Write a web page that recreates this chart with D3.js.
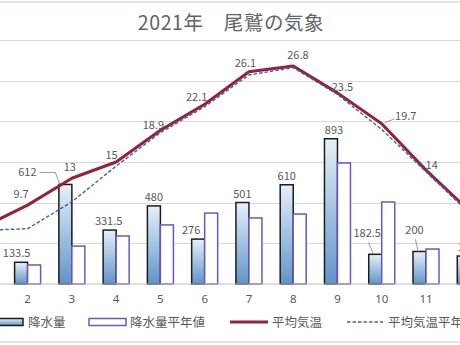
<!DOCTYPE html>
<html>
<head>
<meta charset="utf-8">
<script src="https://cdn.jsdelivr.net/npm/d3@7"></script>
<style>
  html, body { margin: 0; padding: 0; background: #fff; overflow: hidden; }
  svg { display: block; }
  text { font-family: "Noto Sans CJK JP", "Noto Sans", sans-serif; }
</style>
</head>
<body>
<svg id="chart" width="460" height="345"></svg>
<script>
// Monthly weather at Owase, 2021
const months = [1, 2, 3, 4, 5, 6, 7, 8, 9, 10, 11, 12];
const monthLabels = ["1", "2", "3", "4", "5", "6", "7", "8", "9", "10", "11", "12"];
const precip = [97, 133.5, 612, 331.5, 480, 276, 501, 610, 893, 182.5, 200, 172];        // 降水量 (mm)
const precipNormal = [103, 117, 233, 295, 363, 436, 406, 430, 744, 504, 215, 110];        // 降水量平年値 (mm)
const temp = [7.0, 9.7, 13, 15, 18.9, 22.1, 26.1, 26.8, 23.5, 19.7, 14, 8.9];             // 平均気温 (°C)
const tempNormal = [6.6, 6.8, 10.1, 14.5, 18.6, 21.8, 25.7, 26.6, 23.3, 19.0, 13.8, 8.6]; // 平均気温平年値 (°C)
const precipTicks = [0, 250, 500, 750, 1000, 1250, 1500];
const titleText = "2021年\u3000尾鷲の気象";
const legendLabels = ["降水量", "降水量平年値", "平均気温", "平均気温平年値"];

// Label placement (offsets from the mark, px)
const tempLabelOffset = [[-4, -10], [-6.5, -11], [-2, -11], [-4.5, -7], [-7, -5], [-8, -7],
                         [-3.5, -9], [4.7, -11], [5, -6], [24, -8], [5.7, -5], [4, -8]];
const precipLabelShift = [0, -4.5, 0, -1, 0, -7, 0, 0, 3, 0, 0, 3];
// Labels pulled away from their bar, connected with a leader line
const precipLeader = { 2: { dx: -38, dy: -12 }, 9: { dx: -8, dy: -21 }, 10: { dx: -5, dy: -21 } };

const W = 460, H = 345;
const svg = d3.select("#chart");
const grey = "#595959";

const x = d3.scaleBand().domain(months).range([-38.8, 492.4]).padding(0);
const cx = m => x(m) + x.bandwidth() / 2;
const barW = 13;
const yP = d3.scaleLinear().domain([0, 1500]).range([284, 40]);
const yT = d3.scaleLinear().domain([0, 30]).range([284, 40]);

// frame lines
svg.append("line").attr("x1", 0).attr("x2", W).attr("y1", 2).attr("y2", 2)
  .attr("stroke", "#d5dbdf").attr("stroke-width", 1.5);
svg.append("line").attr("x1", 0).attr("x2", W).attr("y1", 342).attr("y2", 342)
  .attr("stroke", "#d5dbdf").attr("stroke-width", 1.5);

// title
svg.append("text").attr("x", 231).attr("y", 30).attr("text-anchor", "middle")
  .attr("font-size", 19.5).attr("fill", "#5f6468").attr("letter-spacing", 0.6).text(titleText);

// gridlines
svg.append("g").selectAll("line").data(precipTicks.slice(1)).join("line")
  .attr("x1", 0).attr("x2", W)
  .attr("y1", d => Math.round(yP(d)) + 0.5).attr("y2", d => Math.round(yP(d)) + 0.5)
  .attr("stroke", "#d9d9d9").attr("stroke-width", 1);

// gradient for the precipitation bars
const defs = svg.append("defs");
const grad = defs.append("linearGradient").attr("id", "barGrad")
  .attr("x1", 0).attr("y1", 0).attr("x2", 0).attr("y2", 1);
grad.append("stop").attr("offset", "0%").attr("stop-color", "#e6f0f9");
grad.append("stop").attr("offset", "100%").attr("stop-color", "#5f95c9");

// precipitation bars
svg.append("g").selectAll("rect").data(months).join("rect")
  .attr("x", (m) => cx(m) - barW)
  .attr("y", (m, i) => yP(precip[i]))
  .attr("width", barW)
  .attr("height", (m, i) => yP(0) - yP(precip[i]))
  .attr("fill", "url(#barGrad)").attr("stroke", "#1c1c1c").attr("stroke-width", 1.5);

// normal precipitation bars
svg.append("g").selectAll("rect").data(months).join("rect")
  .attr("x", (m) => cx(m))
  .attr("y", (m, i) => yP(precipNormal[i]))
  .attr("width", barW)
  .attr("height", (m, i) => yP(0) - yP(precipNormal[i]))
  .attr("fill", "#fff").attr("stroke", "#6e55c6").attr("stroke-width", 1.5);

// baseline
svg.append("line").attr("x1", 0).attr("x2", W).attr("y1", yP(0)).attr("y2", yP(0))
  .attr("stroke", "#bfbfbf").attr("stroke-width", 1);

// month labels
const xAxis = d3.axisBottom(x).tickSize(0).tickPadding(11).tickFormat((m, i) => monthLabels[i]);
const gx = svg.append("g").attr("transform", `translate(0,${yP(0)})`).call(xAxis);
gx.select(".domain").remove();
gx.selectAll("text").attr("font-size", 11.5).attr("fill", grey)
  .style("font-family", "'Noto Sans', sans-serif");

// temperature lines
const line = d3.line().x((d, i) => cx(months[i])).y(d => yT(d));
svg.append("path").datum(temp).attr("d", line).attr("fill", "none")
  .attr("stroke", "#93223a").attr("stroke-width", 3).attr("stroke-linejoin", "round");
svg.append("path").datum(tempNormal).attr("d", line).attr("fill", "none")
  .attr("stroke", "#3d62b5").attr("stroke-width", 1.4).attr("stroke-dasharray", "3.5 2");

// precipitation labels
const pl = svg.append("g").attr("font-size", 11).attr("fill", grey)
  .style("font-family", "'Noto Sans', sans-serif");
months.forEach((m, i) => {
  const bx = cx(m) - barW / 2, by = yP(precip[i]);
  const lead = precipLeader[i];
  if (lead) {
    const tx = bx + lead.dx, ty = by + lead.dy;
    pl.append("text").attr("x", tx).attr("y", ty + 4).attr("text-anchor", "middle").text(precip[i]);
    const pts = i === 2
      ? [[tx + 12, ty], [tx + 28, ty], [cx(m) - barW + 1, by]]
      : [[tx + 1, ty + 9], [cx(m) - barW + 5, by]];
    svg.append("path").attr("d", d3.line()(pts)).attr("fill", "none")
      .attr("stroke", "#7f7f7f").attr("stroke-width", 0.8);
  } else {
    pl.append("text").attr("x", bx + precipLabelShift[i]).attr("y", by - 5)
      .attr("text-anchor", "middle").text(precip[i]);
  }
});

// temperature labels
const tl = svg.append("g").attr("font-size", 11).attr("fill", grey)
  .style("font-family", "'Noto Sans', sans-serif");
months.forEach((m, i) => {
  tl.append("text").attr("x", cx(m) + tempLabelOffset[i][0]).attr("y", yT(temp[i]) + tempLabelOffset[i][1] + 4)
    .attr("text-anchor", "middle").text(temp[i]);
});
// leader from the October label back to its point
svg.append("path")
  .attr("d", d3.line()([[cx(10) + 13, yT(temp[9]) - 5], [cx(10) + 3, yT(temp[9]) - 1]]))
  .attr("fill", "none").attr("stroke", "#7f7f7f").attr("stroke-width", 0.8);

// legend
const ly = 322;
const lg = svg.append("g").attr("font-size", 12.5).attr("fill", grey);
lg.append("rect").attr("x", -14).attr("y", ly - 3.5).attr("width", 37).attr("height", 7)
  .attr("fill", "url(#barGrad)").attr("stroke", "#1c1c1c").attr("stroke-width", 1.5);
lg.append("text").attr("x", 28).attr("y", ly + 4.5).text(legendLabels[0]);
lg.append("rect").attr("x", 89).attr("y", ly - 3.5).attr("width", 37).attr("height", 7)
  .attr("fill", "#fff").attr("stroke", "#6e55c6").attr("stroke-width", 1.5);
lg.append("text").attr("x", 130).attr("y", ly + 4.5).text(legendLabels[1]);
lg.append("line").attr("x1", 230).attr("x2", 268).attr("y1", ly).attr("y2", ly)
  .attr("stroke", "#93223a").attr("stroke-width", 3);
lg.append("text").attr("x", 272).attr("y", ly + 4.5).text(legendLabels[2]);
lg.append("line").attr("x1", 347).attr("x2", 383).attr("y1", ly).attr("y2", ly)
  .attr("stroke", "#3d62b5").attr("stroke-width", 1.4).attr("stroke-dasharray", "3.5 2");
lg.append("text").attr("x", 388).attr("y", ly + 4.5).text(legendLabels[3]);
</script>
</body>
</html>
